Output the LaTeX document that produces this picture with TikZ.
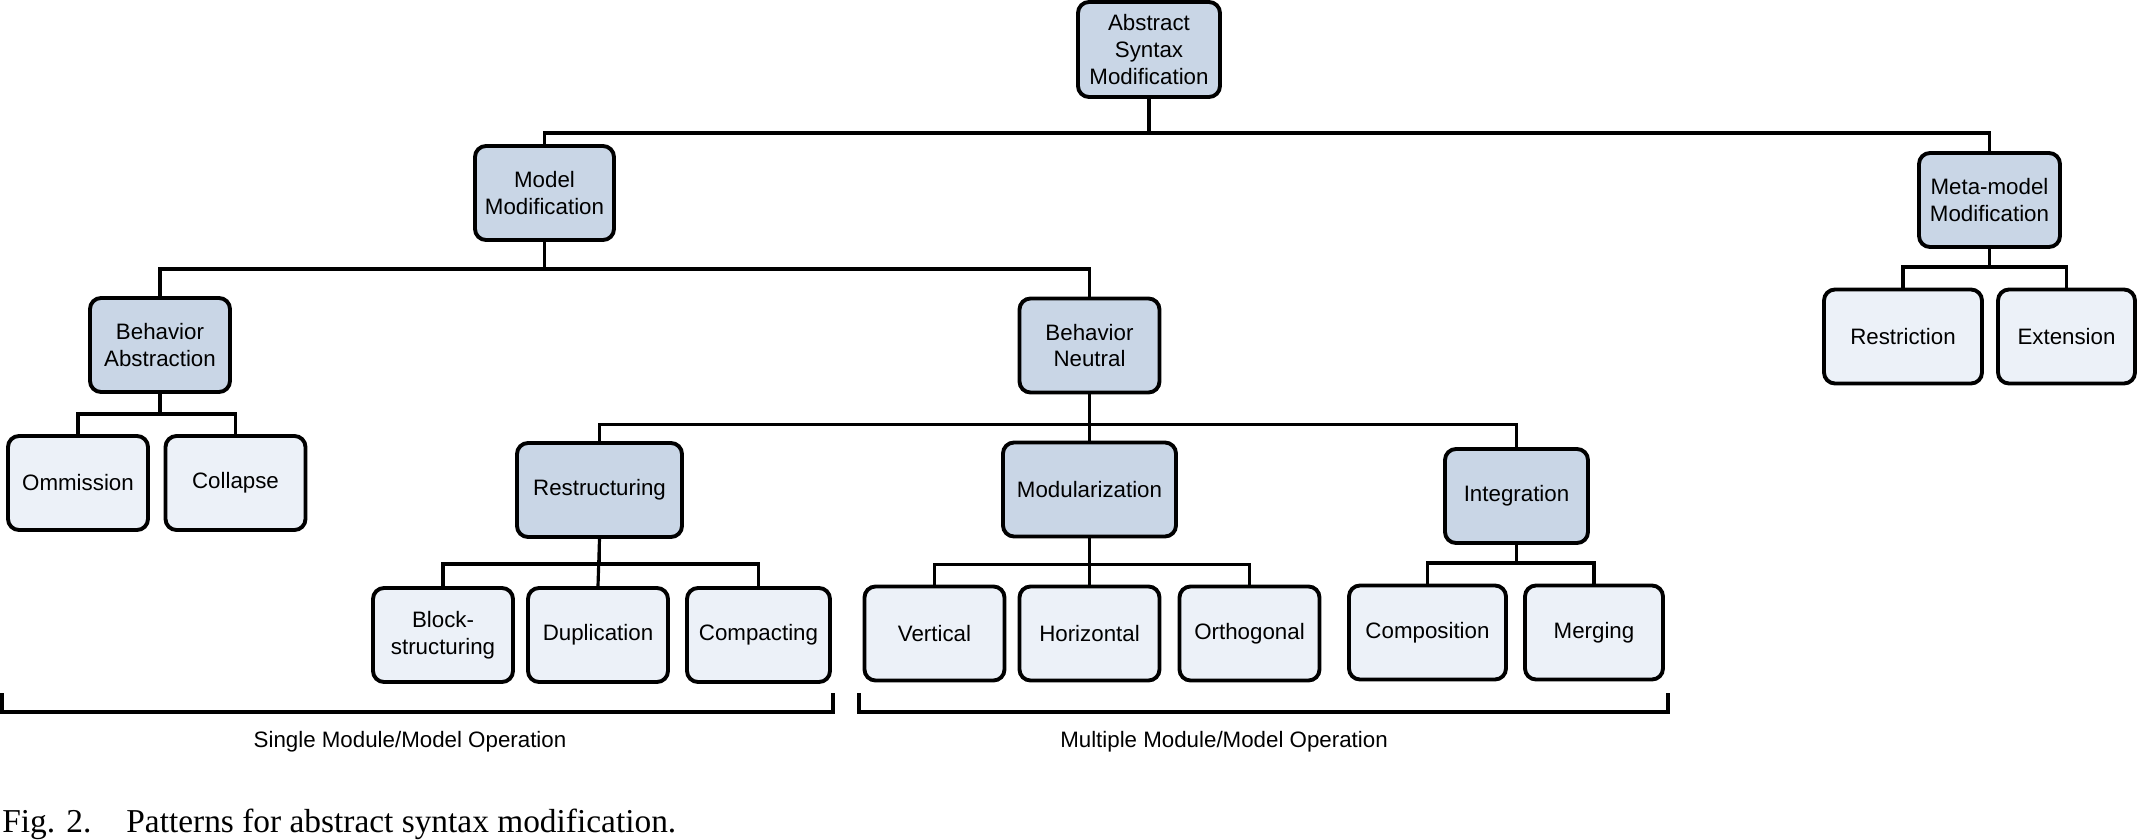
\documentclass[tikz,border=0pt]{standalone}
\usepackage{fontspec}
\setmainfont{Liberation Serif}
\setsansfont{Liberation Sans}
\usepackage{tikz}
\usepackage{xcolor}

\definecolor{groupblue}{RGB}{201,214,230}
\definecolor{leafblue}{RGB}{236,241,248}

\begin{document}
\begin{tikzpicture}[
          box/.style={draw, line width=2.2pt, rounded corners=0.22cm, fill=groupblue, minimum width=2.8cm, minimum height=1.88cm, align=center, inner sep=2pt, font=\sffamily\fontsize{12.7}{15.3}\selectfont},
          leaf/.style={box, fill=leafblue},
          tree/.style={line width=1.8pt},
          brace/.style={line width=1.8pt},
          note/.style={font=\sffamily\fontsize{12.7}{15.3}\selectfont, inner sep=0pt}
        ]
          \useasboundingbox (0,0) rectangle (42.8,-16.8);

          % top level
          \node[box, minimum width=2.84cm, minimum height=1.9cm] (asm) at (22.98,-0.99) {Abstract\\Syntax\\Modification};
          \node[box, minimum width=2.78cm] (mm) at (10.89,-3.86) {Model\\Modification};
          \node[box, minimum width=2.82cm] (mmm) at (39.79,-4.0) {Meta-model\\Modification};

          % meta-model branch
          \node[leaf, minimum width=3.16cm] (restr) at (38.06,-6.73) {Restriction};
          \node[leaf, minimum width=2.74cm] (ext) at (41.33,-6.73) {Extension};

          % model branch
          \node[box] (ba) at (3.2,-6.9) {Behavior\\Abstraction};
          \node[leaf] (omm) at (1.56,-9.66) {Ommission};
          \node[leaf] (coll) at (4.71,-9.66) {Collapse};

          \node[box] (bn) at (21.79,-6.91) {Behavior\\Neutral};
          \node[box, minimum width=3.3cm] (restruc) at (11.99,-9.8) {Restructuring};
          \node[box, minimum width=3.46cm] (modul) at (21.79,-9.79) {Modularization};
          \node[box, minimum width=2.86cm] (integ) at (30.33,-9.92) {Integration};

          \node[leaf] (block) at (8.86,-12.7) {Block-\\structuring};
          \node[leaf] (dup) at (11.96,-12.7) {Duplication};
          \node[leaf, minimum width=2.86cm] (comp) at (15.17,-12.7) {Compacting};

          \node[leaf] (vert) at (18.69,-12.67) {Vertical};
          \node[leaf] (horiz) at (21.79,-12.67) {Horizontal};
          \node[leaf] (orth) at (24.99,-12.67) {Orthogonal};

          \node[leaf, minimum width=3.14cm] (compo) at (28.55,-12.65) {Composition};
          \node[leaf, minimum width=2.76cm] (merg) at (31.88,-12.65) {Merging};

          % connectors
          \draw[tree] (asm.south) -- ++(0,-0.68) -| (mm.north);
          \draw[tree] (asm.south) -- ++(0,-0.68) -| (mmm.north);
          \draw[tree] (mmm.south) -- ++(0,-0.36) -| (restr.north);
          \draw[tree] (mmm.south) -- ++(0,-0.36) -| (ext.north);
          \draw[tree] (mm.south) -- ++(0,-0.54) -| (ba.north);
          \draw[tree] (mm.south) -- ++(0,-0.54) -| (bn.north);
          \draw[tree] (ba.south) -- ++(0,-0.4) -| (omm.north);
          \draw[tree] (ba.south) -- ++(0,-0.4) -| (coll.north);
          \draw[tree] (bn.south) -- ++(0,-0.6) -| (restruc.north);
          \draw[tree] (bn.south) -- ++(0,-0.6) -| (modul.north);
          \draw[tree] (bn.south) -- ++(0,-0.6) -| (integ.north);
          \draw[tree] (restruc.south) -- ++(0,-0.5) -| (block.north);
          \draw[tree] (restruc.south) -- (dup.north);
          \draw[tree] (restruc.south) -- ++(0,-0.5) -| (comp.north);
          \draw[tree] (modul.south) -- ++(0,-0.52) -| (vert.north);
          \draw[tree] (modul.south) -- (horiz.north);
          \draw[tree] (modul.south) -- ++(0,-0.52) -| (orth.north);
          \draw[tree] (integ.south) -- ++(0,-0.36) -| (compo.north);
          \draw[tree] (integ.south) -- ++(0,-0.36) -| (merg.north);

          % operation brackets
          \draw[brace] (0.04,-13.86) -- (0.04,-14.24) -- (16.66,-14.24) -- (16.66,-13.86);
          \draw[brace] (17.18,-13.86) -- (17.18,-14.24) -- (33.36,-14.24) -- (33.36,-13.86);
          \node[note, anchor=base] (single) at (8.2,-14.94) {Single Module/Model Operation};
          \node[note, anchor=base] (multi) at (24.48,-14.94) {Multiple Module/Model Operation};

          % caption
          \node[anchor=base west, inner sep=0pt, font=\fontsize{19}{22}\selectfont] (cap) at (0.04,-16.64) {Fig. 2.\hspace{0.7cm}Patterns for abstract syntax modification.};
        \end{tikzpicture}
\end{document}
